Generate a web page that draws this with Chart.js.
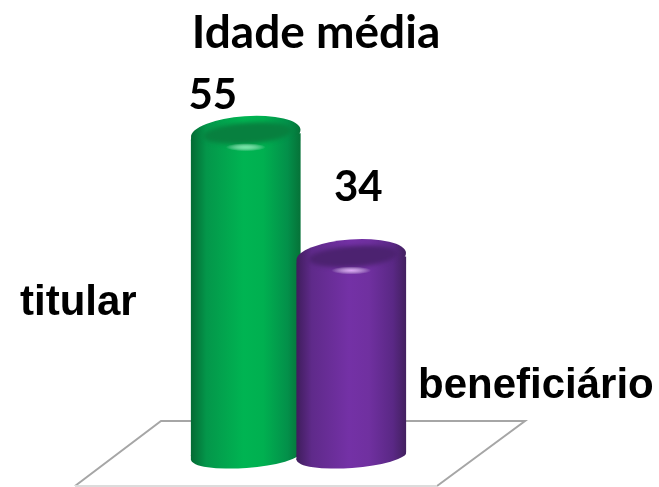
<!DOCTYPE html>
<html>
<head>
<meta charset="utf-8">
<title>Idade média</title>
<script src="https://cdn.jsdelivr.net/npm/chart.js@4"></script>
<style>
  html, body { margin: 0; padding: 0; background: #fff; }
  canvas { display: block; }
</style>
</head>
<body>
<canvas id="ageChart" width="659" height="487"></canvas>
<script>
const titleText = "Idade média";
const categories = ["titular", "beneficiário"];
const ages = [55, 34];

const sideColors = [
  ["#046a34", "#04964a", "#00b452", "#00b050", "#03904a", "#067238"],
  ["#3f1d5c", "#5f2a8a", "#7431a6", "#7030a0", "#5a2885", "#42205f"]
];
const innerColors = ["#07803f", "#4c2270"];
const shineColors = ["#6fe8a5", "#dca6f6"];

// where the free standing texts sit
const valueOffsets = [-33, 7];
const valueY = [95, 187];
const categoryX = [20, 418];
const categoryY = [303, 386];

const barPercent = 1.04;
const tilt = -0.07;

function sideGradient(ctx, x, half, i) {
  let g = ctx.createLinearGradient(x - half, 0, x + half, 0);
  let stops = [0, 0.14, 0.48, 0.66, 0.88, 1];
  stops.forEach((s, n) => g.addColorStop(s, sideColors[i][n]));
  return g;
}

function fillEllipse(ctx, x, y, rx, ry, fill) {
  ctx.beginPath();
  ctx.ellipse(x, y, rx, ry, tilt, 0, Math.PI * 2);
  ctx.fillStyle = fill;
  ctx.fill();
}

function drawCylinder(ctx, bar, i) {
  let half = bar.width / 2;
  let side = sideGradient(ctx, bar.x, half, i);

  // bottom of the cylinder, sits lower on the left because of the tilt
  fillEllipse(ctx, bar.x, bar.base, half, 12, side);
  ctx.fillStyle = side;
  ctx.fillRect(bar.x - half, bar.base - 1, half, 5);
  bar.draw(ctx);

  // cap
  fillEllipse(ctx, bar.x, bar.y, half, 17, side);
  ctx.save();
  ctx.filter = "blur(2px)";
  fillEllipse(ctx, bar.x + 2, bar.y, half - 10, 10.5, innerColors[i]);
  ctx.restore();

  // highlight on the front of the rim
  let sy = bar.y + 14;
  let shine = ctx.createRadialGradient(bar.x, sy, 0, bar.x, sy, 20);
  shine.addColorStop(0, shineColors[i]);
  shine.addColorStop(1, "rgba(255,255,255,0)");
  ctx.save();
  ctx.translate(bar.x, sy);
  ctx.scale(1, 0.2);
  ctx.translate(-bar.x, -sy);
  ctx.fillStyle = shine;
  ctx.beginPath();
  ctx.arc(bar.x, sy, 20, 0, Math.PI * 2);
  ctx.fill();
  ctx.restore();
}

const cylinderPlugin = {
  id: "cylinders",
  beforeDraw(chart) {
    let ctx = chart.ctx;
    ctx.save();
    ctx.lineWidth = 2;
    ctx.strokeStyle = "#a6a6a6";
    ctx.beginPath();
    ctx.moveTo(75, 486);
    ctx.lineTo(161, 421);
    ctx.lineTo(525, 421);
    ctx.lineTo(437, 486);
    ctx.stroke();
    ctx.strokeStyle = "#dcdcdc";
    ctx.beginPath();
    ctx.moveTo(75, 486);
    ctx.lineTo(437, 486);
    ctx.stroke();
    ctx.restore();
  },
  beforeDatasetDraw(chart, args) {
    let ctx = chart.ctx;
    args.meta.data.forEach((bar, i) => drawCylinder(ctx, bar, i));
    return false;
  },
  afterDraw(chart) {
    let ctx = chart.ctx;
    let bars = chart.getDatasetMeta(0).data;
    ctx.save();
    ctx.fillStyle = "#000";
    ctx.textBaseline = "middle";

    ctx.textAlign = "center";
    ctx.font = "bold 46px Lato";
    ctx.fillText(titleText, 316, 33);
    ctx.font = "bold 42px Lato";
    ages.forEach((v, i) => {
      ctx.fillText(String(v), bars[i].x + valueOffsets[i], valueY[i]);
    });

    ctx.textAlign = "left";
    ctx.font = "bold 42px 'Liberation Sans'";
    categories.forEach((c, i) => {
      ctx.fillText(c, categoryX[i], categoryY[i]);
    });
    ctx.restore();
  }
};

new Chart(document.getElementById("ageChart"), {
  type: "bar",
  data: {
    labels: categories,
    datasets: [{
      data: ages,
      backgroundColor: (c) => {
        let area = c.chart.chartArea;
        if (!area || c.dataIndex === undefined) return "#00b050";
        let half = area.width / categories.length * barPercent / 2;
        let x = c.chart.scales.x.getPixelForValue(c.dataIndex);
        return sideGradient(c.chart.ctx, x, half, c.dataIndex);
      },
      borderWidth: 0,
      borderSkipped: false,
      borderRadius: { topLeft: 7, topRight: 0, bottomLeft: 0, bottomRight: 4 },
      barPercentage: barPercent,
      categoryPercentage: 1
    }]
  },
  options: {
    responsive: false,
    animation: false,
    layout: { padding: { left: 193, right: 255, top: 0, bottom: 31 } },
    plugins: { legend: { display: false }, tooltip: { enabled: false } },
    scales: {
      x: { display: false, grid: { display: false } },
      y: { display: false, min: 0, max: 77.7, grid: { display: false } }
    }
  },
  plugins: [cylinderPlugin]
});
</script>
</body>
</html>
